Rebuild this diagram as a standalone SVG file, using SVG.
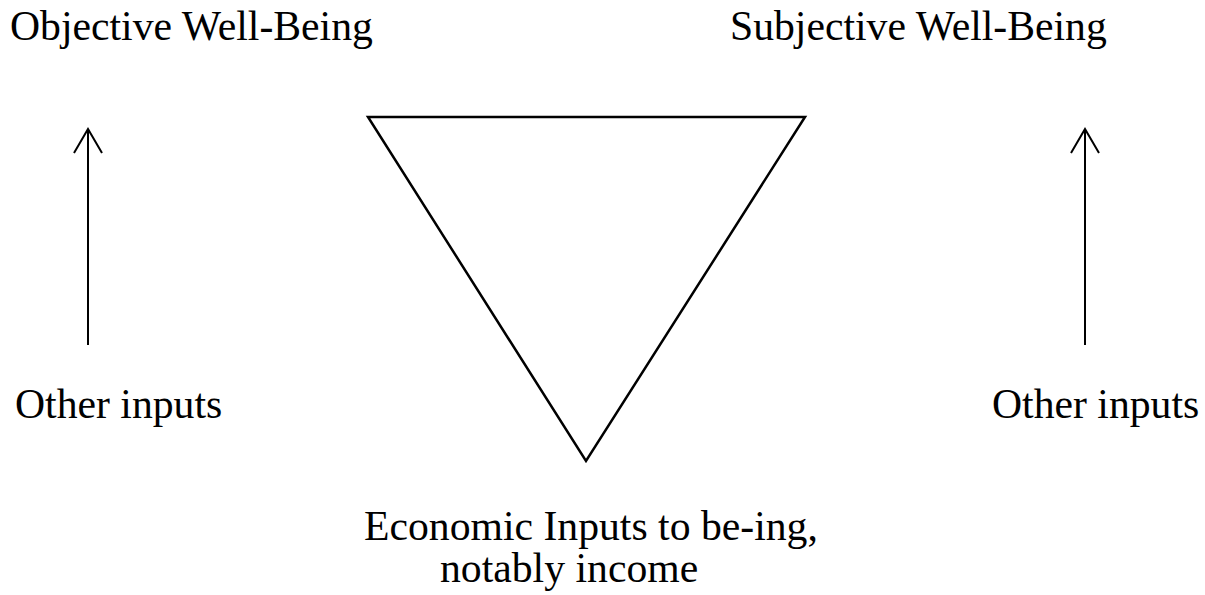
<svg xmlns="http://www.w3.org/2000/svg" width="1205" height="595" viewBox="0 0 1205 595">
<style>
text{font-family:"Liberation Serif","Times New Roman",serif;font-size:41.7px;fill:#000}
.ln{stroke:#000;stroke-width:2;fill:none}
.tri{stroke:#000;stroke-width:2.5;fill:none;stroke-linejoin:miter}
</style>
<defs>
<marker id="ah" viewBox="-2 -2 30 34" refX="24" refY="15" markerWidth="30" markerHeight="34" markerUnits="userSpaceOnUse" orient="auto">
<path d="M0,1 L24,15 L0,29" stroke="#000" stroke-width="2" fill="none"/>
</marker>
</defs>
<rect width="1205" height="595" fill="#fff"/>
<g id="objective"><text x="10" y="40">Objective Well-Being</text></g>
<g id="subjective"><text x="730" y="40">Subjective Well-Being</text></g>
<g id="other-left"><text x="15" y="418">Other inputs</text></g>
<g id="other-right"><text x="992" y="418">Other inputs</text></g>
<g id="triangle"><polygon class="tri" points="368,117 805,117 586,461"/></g>
<g id="economic"><text x="364" y="540">Economic Inputs to be-ing,</text><text x="440" y="582">notably income</text></g>
<g id="connectors">
<line class="ln" x1="88" y1="345" x2="88" y2="129" marker-end="url(#ah)"/>
<line class="ln" x1="1085" y1="345" x2="1085" y2="129" marker-end="url(#ah)"/>
</g>
</svg>
